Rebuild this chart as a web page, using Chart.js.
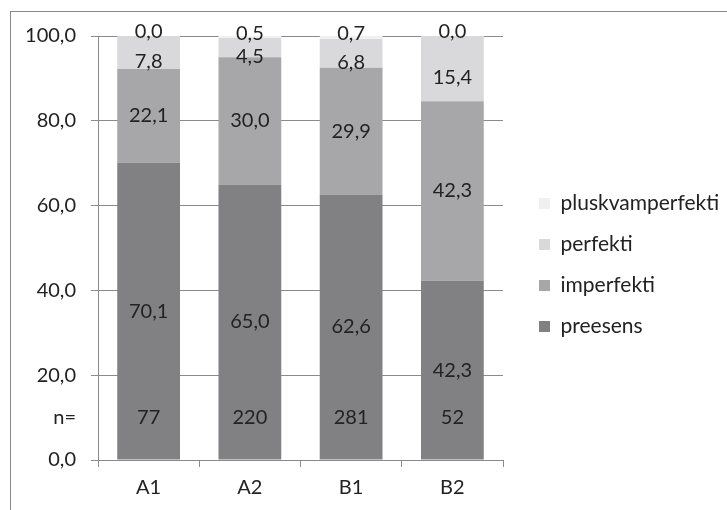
<!DOCTYPE html>
<html>
<head>
<meta charset="utf-8">
<script src="https://cdn.jsdelivr.net/npm/chart.js@4/dist/chart.umd.min.js"></script>
<style>
  body { margin: 0; background: #fff; }
  #wrap { position: relative; width: 727px; height: 510px; overflow: hidden; }
  #frame { position: absolute; left: 10px; top: 11px; width: 900px; height: 700px; border: 1px solid #8a8a8a; }
  #c { position: absolute; left: 0; top: 0; }
</style>
</head>
<body>
<div id="wrap">
  <div id="frame"></div>
  <canvas id="c" width="727" height="510"></canvas>
</div>
<script>
// values (percent)
const levels = ['A1', 'A2', 'B1', 'B2'];
const preesens = [70.1, 65.0, 62.6, 42.3];
const imperfekti = [22.1, 30.0, 29.9, 42.3];
const perfekti = [7.8, 4.5, 6.8, 15.4];
const pluskvamperfekti = [0.0, 0.5, 0.7, 0.0];
const nValues = [77, 220, 281, 52];
const yTicks = [0, 20, 40, 60, 80, 100];

const fontFam = 'Lato, "Open Sans", sans-serif';
const textCol = '#222';

function fmt(v) {
    return v.toFixed(1).replace('.', ',');
}

// draws the numbers inside the bars and the n= row
const valueLabels = {
    id: 'valueLabels',
    afterDatasetsDraw(chart) {
        const ctx = chart.ctx;
        const x = chart.scales.x, y = chart.scales.y;
        ctx.save();
        ctx.font = '20px ' + fontFam;
        ctx.fillStyle = textCol;
        ctx.textAlign = 'center';
        ctx.textBaseline = 'middle';
        chart.data.datasets.forEach(function (ds, di) {
            const meta = chart.getDatasetMeta(di);
            meta.data.forEach(function (bar, i) {
                const mid = (bar.y + bar.base) / 2 + (ds.labelShift || 0);
                ctx.fillText(fmt(ds.data[i]), bar.x, mid);
            });
        });
        // n row
        const ny = y.getPixelForValue(10);
        nValues.forEach(function (n, i) {
            ctx.fillText(String(n), x.getPixelForValue(i), ny);
        });
        ctx.textAlign = 'right';
        ctx.fillText('n=', x.left - 22, ny);
        ctx.restore();
    }
};

// legend box gets a fixed width, then is nudged to where the original has it
const legendPlace = {
    id: 'legendPlace',
    beforeLayout(chart) {
        const lg = chart.legend;
        if (lg && !lg._fixed) {
            const fit = lg.fit;
            lg.fit = function () {
                fit.call(this);
                this.width = 224;
            };
            lg._fixed = true;
        }
    },
    beforeDraw(chart) {
        const lg = chart.legend;
        const pad = lg.options.labels.padding;
        const dx = chart.chartArea.right + 36 - (lg.left + pad);
        const dy = 193 - (lg.top + pad);
        lg.left += dx; lg.right += dx;
        lg.top += dy; lg.bottom += dy;
    }
};

new Chart(document.getElementById('c'), {
    type: 'bar',
    data: {
        labels: levels,
        datasets: [
            { label: 'preesens', data: preesens, backgroundColor: '#818184' },
            { label: 'imperfekti', data: imperfekti, backgroundColor: '#a7a7aa' },
            { label: 'perfekti', data: perfekti, backgroundColor: '#d9d9db', labelShift: 9 },
            { label: 'pluskvamperfekti', data: pluskvamperfekti, backgroundColor: '#f0f0f0', labelShift: -4 }
        ]
    },
    options: {
        responsive: false,
        animation: false,
        layout: { padding: { left: 27, top: 36, right: 0, bottom: 1 } },
        datasets: {
            bar: { categoryPercentage: 1, barPercentage: 0.62, borderWidth: 0 }
        },
        plugins: {
            tooltip: { enabled: false },
            legend: {
                position: 'right',
                align: 'start',
                reverse: true,
                labels: {
                    boxWidth: 11,
                    boxHeight: 11,
                    padding: 20,
                    color: textCol,
                    font: { family: fontFam, size: 21 }
                }
            }
        },
        scales: {
            x: {
                stacked: true,
                grid: { offset: true, drawOnChartArea: false, tickLength: 7, color: '#8a8a8a' },
                border: { color: '#8a8a8a' },
                ticks: { color: textCol, padding: 9, font: { family: fontFam, size: 20 } }
            },
            y: {
                stacked: true,
                min: 0,
                max: 100,
                afterBuildTicks: function (axis) {
                    axis.ticks = yTicks.map(function (v) { return { value: v }; });
                },
                afterFit: function (axis) {
                    axis.width = 71;
                },
                grid: { tickLength: 7, color: '#8a8a8a' },
                border: { color: '#8a8a8a' },
                ticks: {
                    color: textCol,
                    padding: 15,
                    font: { family: fontFam, size: 20 },
                    callback: function (v) { return fmt(v); }
                }
            }
        }
    },
    plugins: [valueLabels, legendPlace]
});
</script>
</body>
</html>
